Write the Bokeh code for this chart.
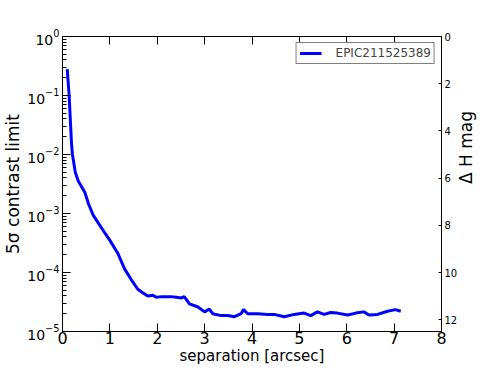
import math
from bokeh.plotting import figure
from bokeh.models import (Range1d, LinearAxis, LinearScale, FixedTicker, LogTicker,
                          CustomJSTickFormatter, Legend, LegendItem)
from bokeh.embed import file_html
from bokeh.resources import INLINE

# ---- data ----
separation = [0.10, 0.14, 0.19, 0.21, 0.27, 0.33, 0.47, 0.55, 0.65, 0.75, 0.87, 1.00,
              1.17, 1.31, 1.45, 1.59, 1.70, 1.80, 1.91, 1.98, 2.10, 2.29, 2.40, 2.51,
              2.57, 2.68, 2.86, 3.00, 3.10, 3.17, 3.35, 3.49, 3.63, 3.77, 3.82, 3.91,
              4.12, 4.33, 4.47, 4.68, 4.89, 5.10, 5.24, 5.38, 5.52, 5.66, 5.80, 6.02,
              6.19, 6.36, 6.47, 6.65, 6.86, 7.03, 7.14]
contrast = [0.28, 0.1, 0.0155, 0.01, 0.005, 0.0036, 0.0023, 0.00145, 0.00093, 0.0007,
            0.0005, 0.00035, 0.00021, 0.000115, 7.6e-5, 5.2e-5, 4.5e-5, 4.0e-5, 4.1e-5,
            3.8e-5, 3.9e-5, 3.9e-5, 3.8e-5, 3.7e-5, 3.9e-5, 2.95e-5, 2.6e-5, 2.15e-5,
            2.4e-5, 2.0e-5, 1.86e-5, 1.86e-5, 1.78e-5, 2.0e-5, 2.35e-5, 2.0e-5, 2.0e-5,
            1.95e-5, 1.95e-5, 1.78e-5, 1.95e-5, 2.05e-5, 1.86e-5, 2.15e-5, 1.95e-5,
            2.1e-5, 2.05e-5, 1.9e-5, 2.05e-5, 2.15e-5, 1.9e-5, 1.95e-5, 2.2e-5, 2.35e-5,
            2.2e-5]
series_name = "EPIC211525389"
x_ticks = [0, 1, 2, 3, 4, 5, 6, 7, 8]
mag_ticks = [0, 2, 4, 6, 8, 10, 12]
x_label = "separation [arcsec]"
y_label = "5σ contrast limit"
mag_label = "Δ H mag"

FONT = "DejaVu Sans"

p = figure(output_backend="svg", toolbar_location=None,
           width=491, height=368,
           min_border_left=61, min_border_right=50, min_border_top=36, min_border_bottom=37,
           x_range=Range1d(0, 8), y_range=Range1d(1e-5, 1), y_axis_type="log")
p.grid.visible = False
p.outline_line_color = "black"
p.outline_line_width = 1
p.background_fill_color = "white"
p.border_fill_color = "white"

def style(ax, size="16px", label_size="17px"):
    ax.axis_line_color = "black"
    ax.major_tick_line_color = "black"
    ax.minor_tick_line_color = "black"
    ax.major_tick_out = 0
    ax.minor_tick_out = 0
    ax.major_label_text_font = FONT
    ax.major_label_text_font_size = size
    ax.major_label_text_color = "black"
    ax.axis_label_text_font = FONT
    ax.axis_label_text_font_size = label_size
    ax.axis_label_text_font_style = "normal"
    ax.axis_label_text_color = "black"

xa = p.xaxis[0]
style(xa, "16px", "15px")
xa.ticker = FixedTicker(ticks=x_ticks)
xa.major_tick_in = 8
xa.minor_tick_in = 0
xa.major_label_standoff = 0
xa.axis_label = x_label
xa.axis_label_standoff = 0

ya = p.yaxis[0]
style(ya, "14px")
ya.ticker = LogTicker(num_minor_ticks=10)
ya.major_tick_in = 8
ya.minor_tick_in = 4
ya.major_label_standoff = 3
ya.axis_label = y_label
ya.axis_label_standoff = 1

top = LinearAxis(ticker=FixedTicker(ticks=x_ticks),
                 formatter=CustomJSTickFormatter(code="return ''"))
style(top)
top.major_tick_in = 8
top.minor_tick_in = 0
top.major_label_text_font_size = "1px"
top.major_label_standoff = 0
p.add_layout(top, "above")

p.extra_y_ranges = {"mag": Range1d(12.5, 0)}
p.extra_y_scales = {"mag": LinearScale()}
right = LinearAxis(y_range_name="mag", ticker=FixedTicker(ticks=mag_ticks))
style(right, "10px", "17px")
right.major_tick_in = 3
right.minor_tick_in = 0
right.major_label_standoff = 3
right.axis_label = mag_label
right.axis_label_standoff = 6
right.axis_label_orientation = math.pi / 2
p.add_layout(right, "right")

r = p.line(separation, contrast, line_color="#0000ff", line_width=3)

legend = Legend(items=[LegendItem(label=series_name, renderers=[r])],
                location="top_right", margin=6, padding=3, spacing=0,
                glyph_width=22, glyph_height=10, label_height=10, label_standoff=14,
                label_text_font=FONT, label_text_font_size="12px",
                border_line_color="black", border_line_width=1,
                background_fill_color="white", background_fill_alpha=1)
p.add_layout(legend)

open("out.html", "w").write(file_html(p, INLINE))
